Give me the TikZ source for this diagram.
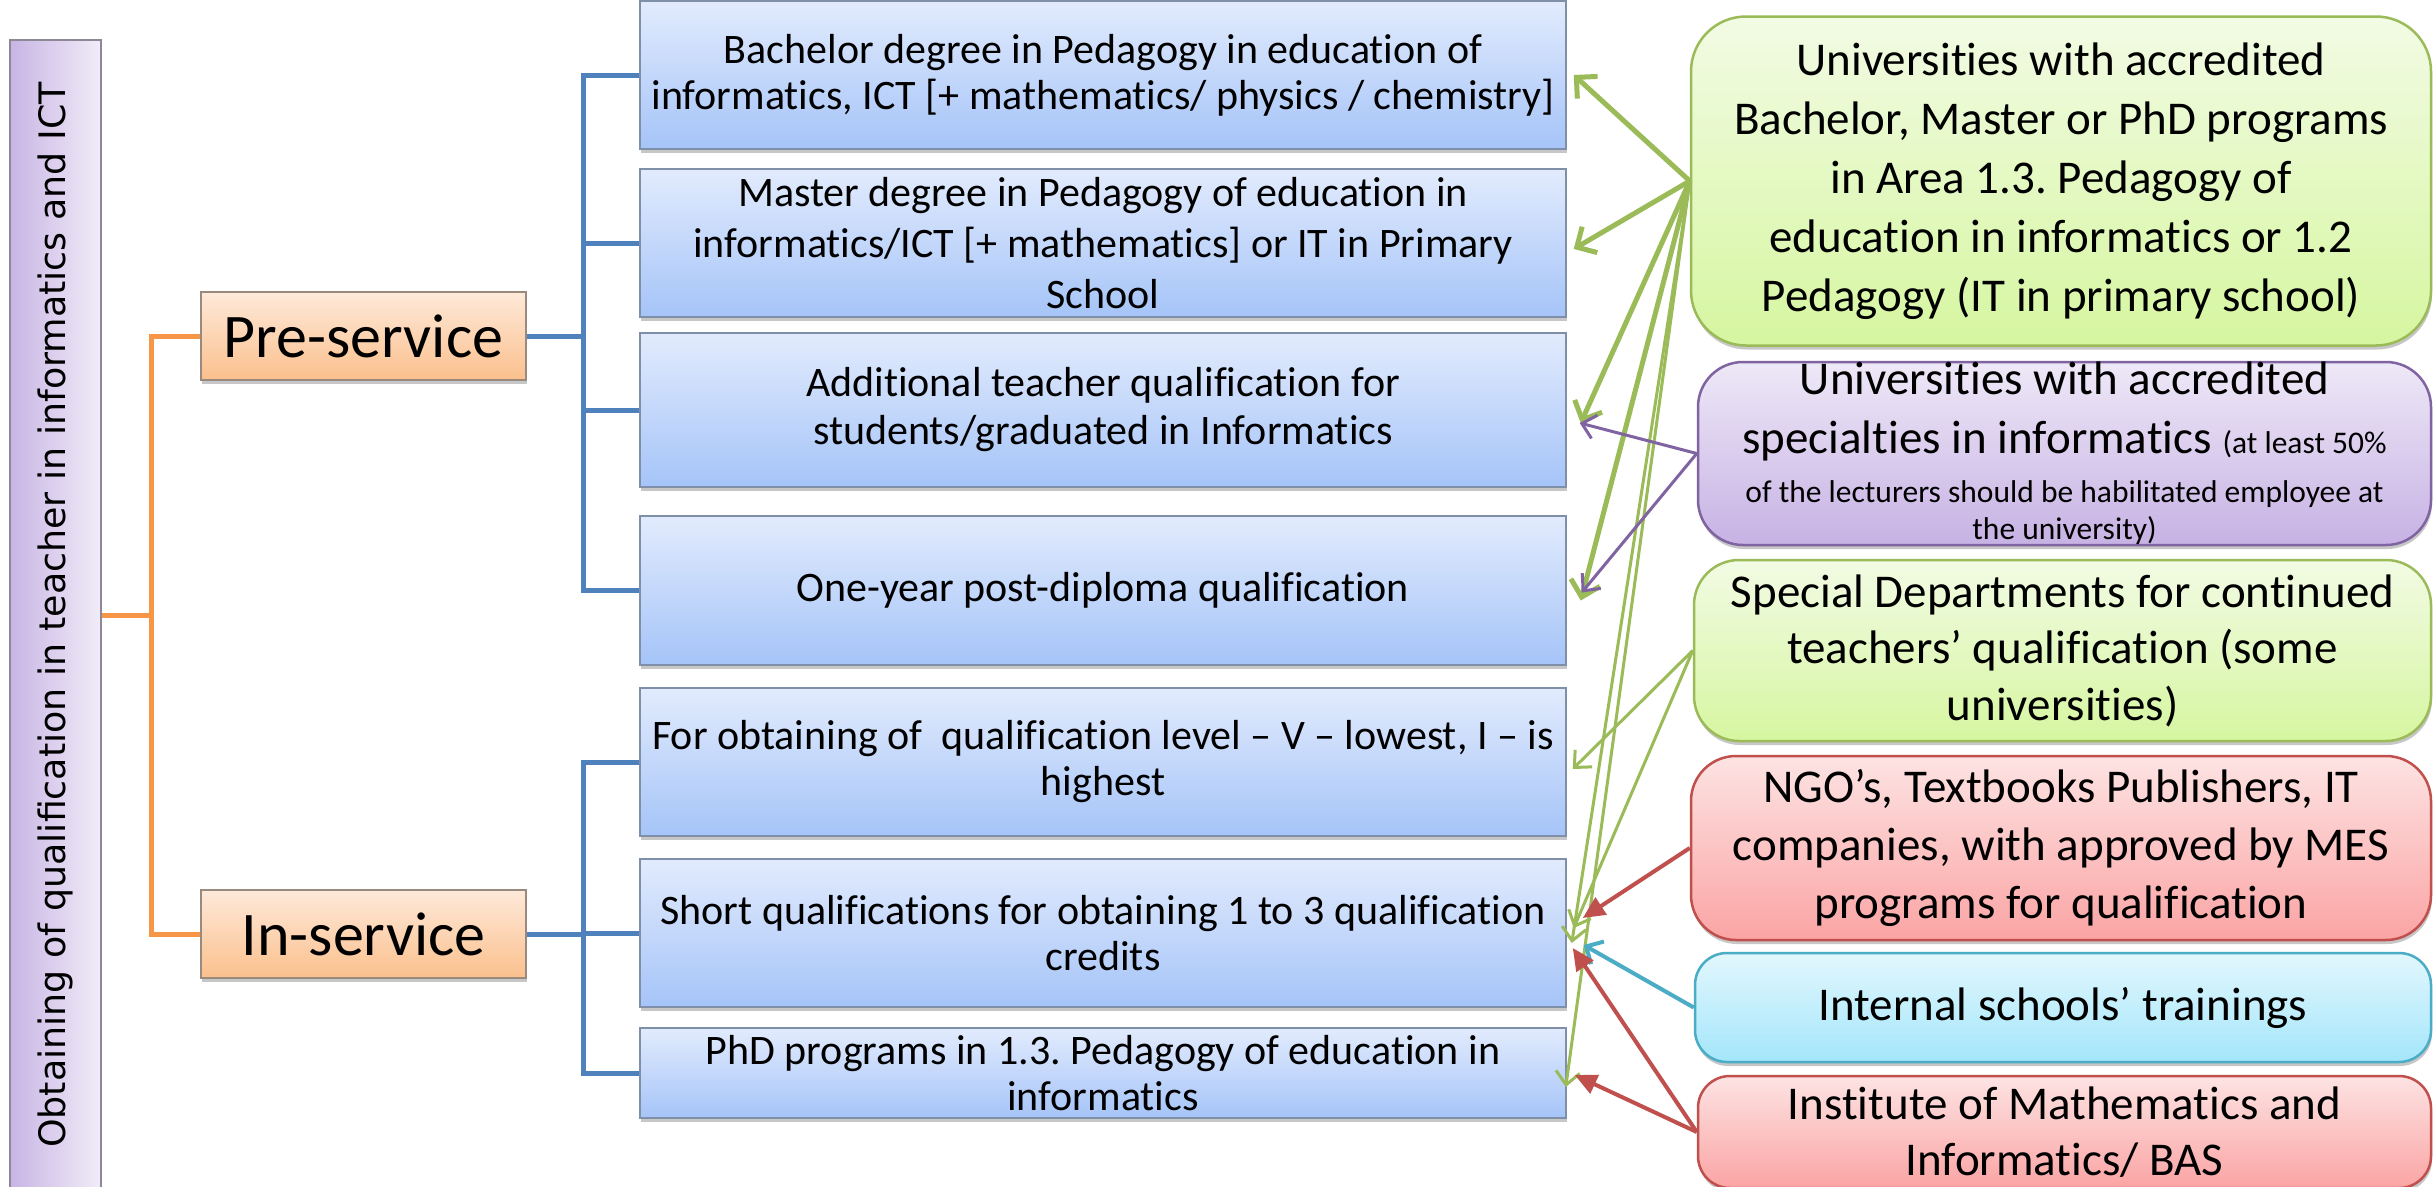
\documentclass[tikz,border=0pt]{standalone}
\usepackage{fontspec}
\setmainfont{Carlito}[Ligatures=CommonOff]
\newfontfamily\sidefont{DejaVu Sans}
\usetikzlibrary{arrows.meta,shadows,calc}
\frenchspacing

\definecolor{blueLine}{HTML}{4F81BD}
\definecolor{orangeLine}{HTML}{F79646}
\definecolor{greenLine}{HTML}{9BBB59}
\definecolor{purpleLine}{HTML}{8064A2}
\definecolor{redLine}{HTML}{C0504D}
\definecolor{cyanLine}{HTML}{4BACC6}
\definecolor{blueTop}{HTML}{E2EBFD}
\definecolor{blueBot}{HTML}{A5C4F8}
\definecolor{blueEdge}{HTML}{7F8FA8}
\definecolor{orangeTop}{HTML}{FEE9D9}
\definecolor{orangeBot}{HTML}{FBC08D}
\definecolor{orangeEdge}{HTML}{9A8A7E}
\definecolor{lilacTop}{HTML}{F1ECF8}
\definecolor{lilacBot}{HTML}{C8B5E4}
\definecolor{lilacEdge}{HTML}{8C8896}
\definecolor{greenTop}{HTML}{F2FBE4}
\definecolor{greenBot}{HTML}{D6F6A0}
\definecolor{purpleTop}{HTML}{EEE8F7}
\definecolor{purpleBot}{HTML}{C7B2E4}
\definecolor{redTop}{HTML}{FDE3E3}
\definecolor{redBot}{HTML}{FBA4A4}
\definecolor{cyanTop}{HTML}{E2F7FD}
\definecolor{cyanBot}{HTML}{A4E6FB}

\begin{document}
\begin{tikzpicture}[x=1pt,y=-1pt,
  softshadow/.style={drop shadow={shadow xshift=1pt,shadow yshift=-4pt,opacity=0.22,fill=black}},
  sidebox/.style={draw=lilacEdge,line width=1.5pt,left color=lilacBot,right color=lilacTop,
    rotate=90,minimum width=1150pt,minimum height=91pt,inner sep=0pt,
    font=\sidefont\fontsize{36.4}{44}\selectfont},
  servicebox/.style={draw=orangeEdge,line width=1.5pt,top color=orangeTop,bottom color=orangeBot,
    minimum width=325pt,minimum height=88pt,inner sep=0pt,
    font=\fontsize{62}{70}\selectfont,softshadow},
  progbox/.style={draw=blueEdge,line width=1.5pt,top color=blueTop,bottom color=blueBot,
    minimum width=926pt,text width=926pt,inner sep=0pt,align=flush center,
    font=\fontsize{42}{46}\selectfont,softshadow},
  srcbox/.style={line width=2.5pt,inner sep=0pt,align=flush center,
    font=\fontsize{47}{58}\selectfont,softshadow},
  greenbox/.style={srcbox,draw=greenLine,top color=greenTop,bottom color=greenBot},
  purplebox/.style={srcbox,draw=purpleLine,top color=purpleTop,bottom color=purpleBot},
  redbox/.style={srcbox,draw=redLine,top color=redTop,bottom color=redBot},
  cyanbox/.style={srcbox,draw=cyanLine,top color=cyanTop,bottom color=cyanBot},
  orangeconn/.style={draw=orangeLine,line width=5pt},
  blueconn/.style={draw=blueLine,line width=5pt},
  gthick/.style={draw=greenLine,line width=5pt,-{Straight Barb[length=15pt,width=30pt]}},
  gthin/.style={draw=greenLine,line width=3pt,-{Straight Barb[length=13pt,width=24pt]}},
  pconn/.style={draw=purpleLine,line width=3pt,-{Straight Barb[length=13pt,width=24pt]}},
  cconn/.style={draw=cyanLine,line width=4pt,-{Straight Barb[length=13pt,width=26pt]}},
  rconn/.style={draw=redLine,line width=4pt,-{Triangle[length=22pt,width=20pt]}}
]
\useasboundingbox (0,0) rectangle (2433,1186);
\fill[white] (0,0) rectangle (2433,1186);
\clip (0,0) rectangle (2433,1186);

% title bar on the left
\node[sidebox] (side) at (55.5,615) {Obtaining of qualification in teacher in informatics and ICT};

% the two branches
\node[servicebox] (presrv) at (363.5,336) {Pre-service};
\node[servicebox] (insrv) at (363.5,934) {In-service};

% programme boxes
\node[progbox,minimum height=148pt] (b1) at (1103,75)
  {Bachelor degree in Pedagogy in education of\\ informatics, ICT [+ mathematics/ physics / chemistry]};
\node[progbox,minimum height=148pt,font=\fontsize{42}{51}\selectfont] (b2) at (1103,243)
  {Master degree in Pedagogy of education in\\ informatics/ICT [+ mathematics] or IT in Primary\\ School};
\node[progbox,minimum height=154pt,font=\fontsize{42}{48}\selectfont] (b3) at (1103,410)
  {Additional teacher qualification for\\ students/graduated in Informatics};
\node[progbox,minimum height=149pt] (b4) at (1103,590.5)
  {One-year post-diploma qualification};
\node[progbox,minimum height=148pt] (b5) at (1103,762)
  {For obtaining of~ qualification level – V – lowest, I – is\\ highest};
\node[progbox,minimum height=148pt] (b6) at (1103,933)
  {Short qualifications for obtaining 1 to 3 qualification\\ credits};
\node[progbox,minimum height=90pt] (b7) at (1103,1073)
  {PhD programs in 1.3. Pedagogy of education in\\ informatics};

% providers
\node[greenbox,rounded corners=55pt,minimum width=740pt,text width=720pt,minimum height=329pt,font=\fontsize{47}{59}\selectfont] (univ) at (2061,181)
  {Universities with accredited\\ Bachelor, Master or PhD programs\\ in Area 1.3. Pedagogy of\\ education in informatics or 1.2\\ Pedagogy (IT in primary school)};
\node[purplebox,rounded corners=45pt,minimum width=733pt,text width=720pt,minimum height=183pt,font=\fontsize{47}{59}\selectfont] (spec) at (2064.5,453.5)
  {Universities with accredited\\ specialties in informatics {\fontsize{31.5}{37}\selectfont (at least 50\%}\\[-10pt]
   {\fontsize{31.5}{37}\selectfont of the lecturers should be habilitated employee at}\\[-22pt]
   {\fontsize{31.5}{37}\selectfont the university)}};
\node[greenbox,rounded corners=45pt,minimum width=737pt,text width=720pt,minimum height=181pt,font=\fontsize{47}{56.5}\selectfont] (dept) at (2062.5,650.5)
  {Special Departments for continued\\ teachers’ qualification (some\\ universities)};
\node[redbox,rounded corners=45pt,minimum width=740pt,text width=720pt,minimum height=184pt] (ngo) at (2061,848)
  {NGO’s, Textbooks Publishers, IT\\ companies, with approved by MES\\ programs for qualification};
\node[cyanbox,rounded corners=32pt,minimum width=736pt,text width=720pt,minimum height=109pt] (intl) at (2063,1007.5)
  {Internal schools’ trainings};
\node[redbox,rounded corners=32pt,minimum width=733pt,text width=720pt,minimum height=112pt,font=\fontsize{47}{56}\selectfont] (inst) at (2064.5,1132)
  {Institute of Mathematics and\\ Informatics/ BAS};

% tree connectors
\coordinate (ojoin) at (151,615);
\coordinate (pbus) at (583,336);
\coordinate (ibus) at (583,934);
\draw[orangeconn] (side.south) -- (ojoin);
\draw[orangeconn] (presrv.west) -| (ojoin) |- (insrv.west);
\draw[blueconn] (presrv.east) -- (pbus);
\draw[blueconn] (b1.west) -| (pbus) |- (b4.west);
\draw[blueconn] (b2.west) -- (pbus |- b2.west);
\draw[blueconn] (b3.west) -- (pbus |- b3.west);
\draw[blueconn] (insrv.east) -- (ibus);
\draw[blueconn] (b5.west) -| (ibus) |- (b7.west);
\draw[blueconn] (b6.west) -- (ibus |- b6.west);

% provider arrows
\draw[gthick] (univ.west) -- ($(b1.east)+(7,0)$);
\draw[gthick] (univ.west) -- ($(b2.east)+(7,6)$);
\draw[gthick] (univ.west) -- ($(b3.east)+(14,13)$);
\draw[gthick] (univ.west) -- ($(b4.east)+(14,10)$);
\draw[gthin] (univ.west) -- ($(b6.east)+(5,10)$);
\draw[gthin] (univ.west) -- ($(b7.east)+(-1,14)$);
\draw[pconn] (spec.west) -- ($(b3.east)+(13,13)$);
\draw[pconn] (spec.west) -- ($(b4.east)+(15,2)$);
\draw[gthin] (dept.west) -- ($(b5.east)+(6,7)$);
\draw[gthin] (dept.west) -- ($(b6.east)+(7,-5)$);
\draw[rconn] (ngo.west) -- ($(b6.east)+(16,-15)$);
\draw[cconn] (intl.west) -- ($(b6.east)+(17,12)$);
\draw[rconn] (inst.west) -- ($(b6.east)+(6,15)$);
\draw[rconn] (inst.west) -- ($(b7.east)+(8,2)$);
\end{tikzpicture}
\end{document}
